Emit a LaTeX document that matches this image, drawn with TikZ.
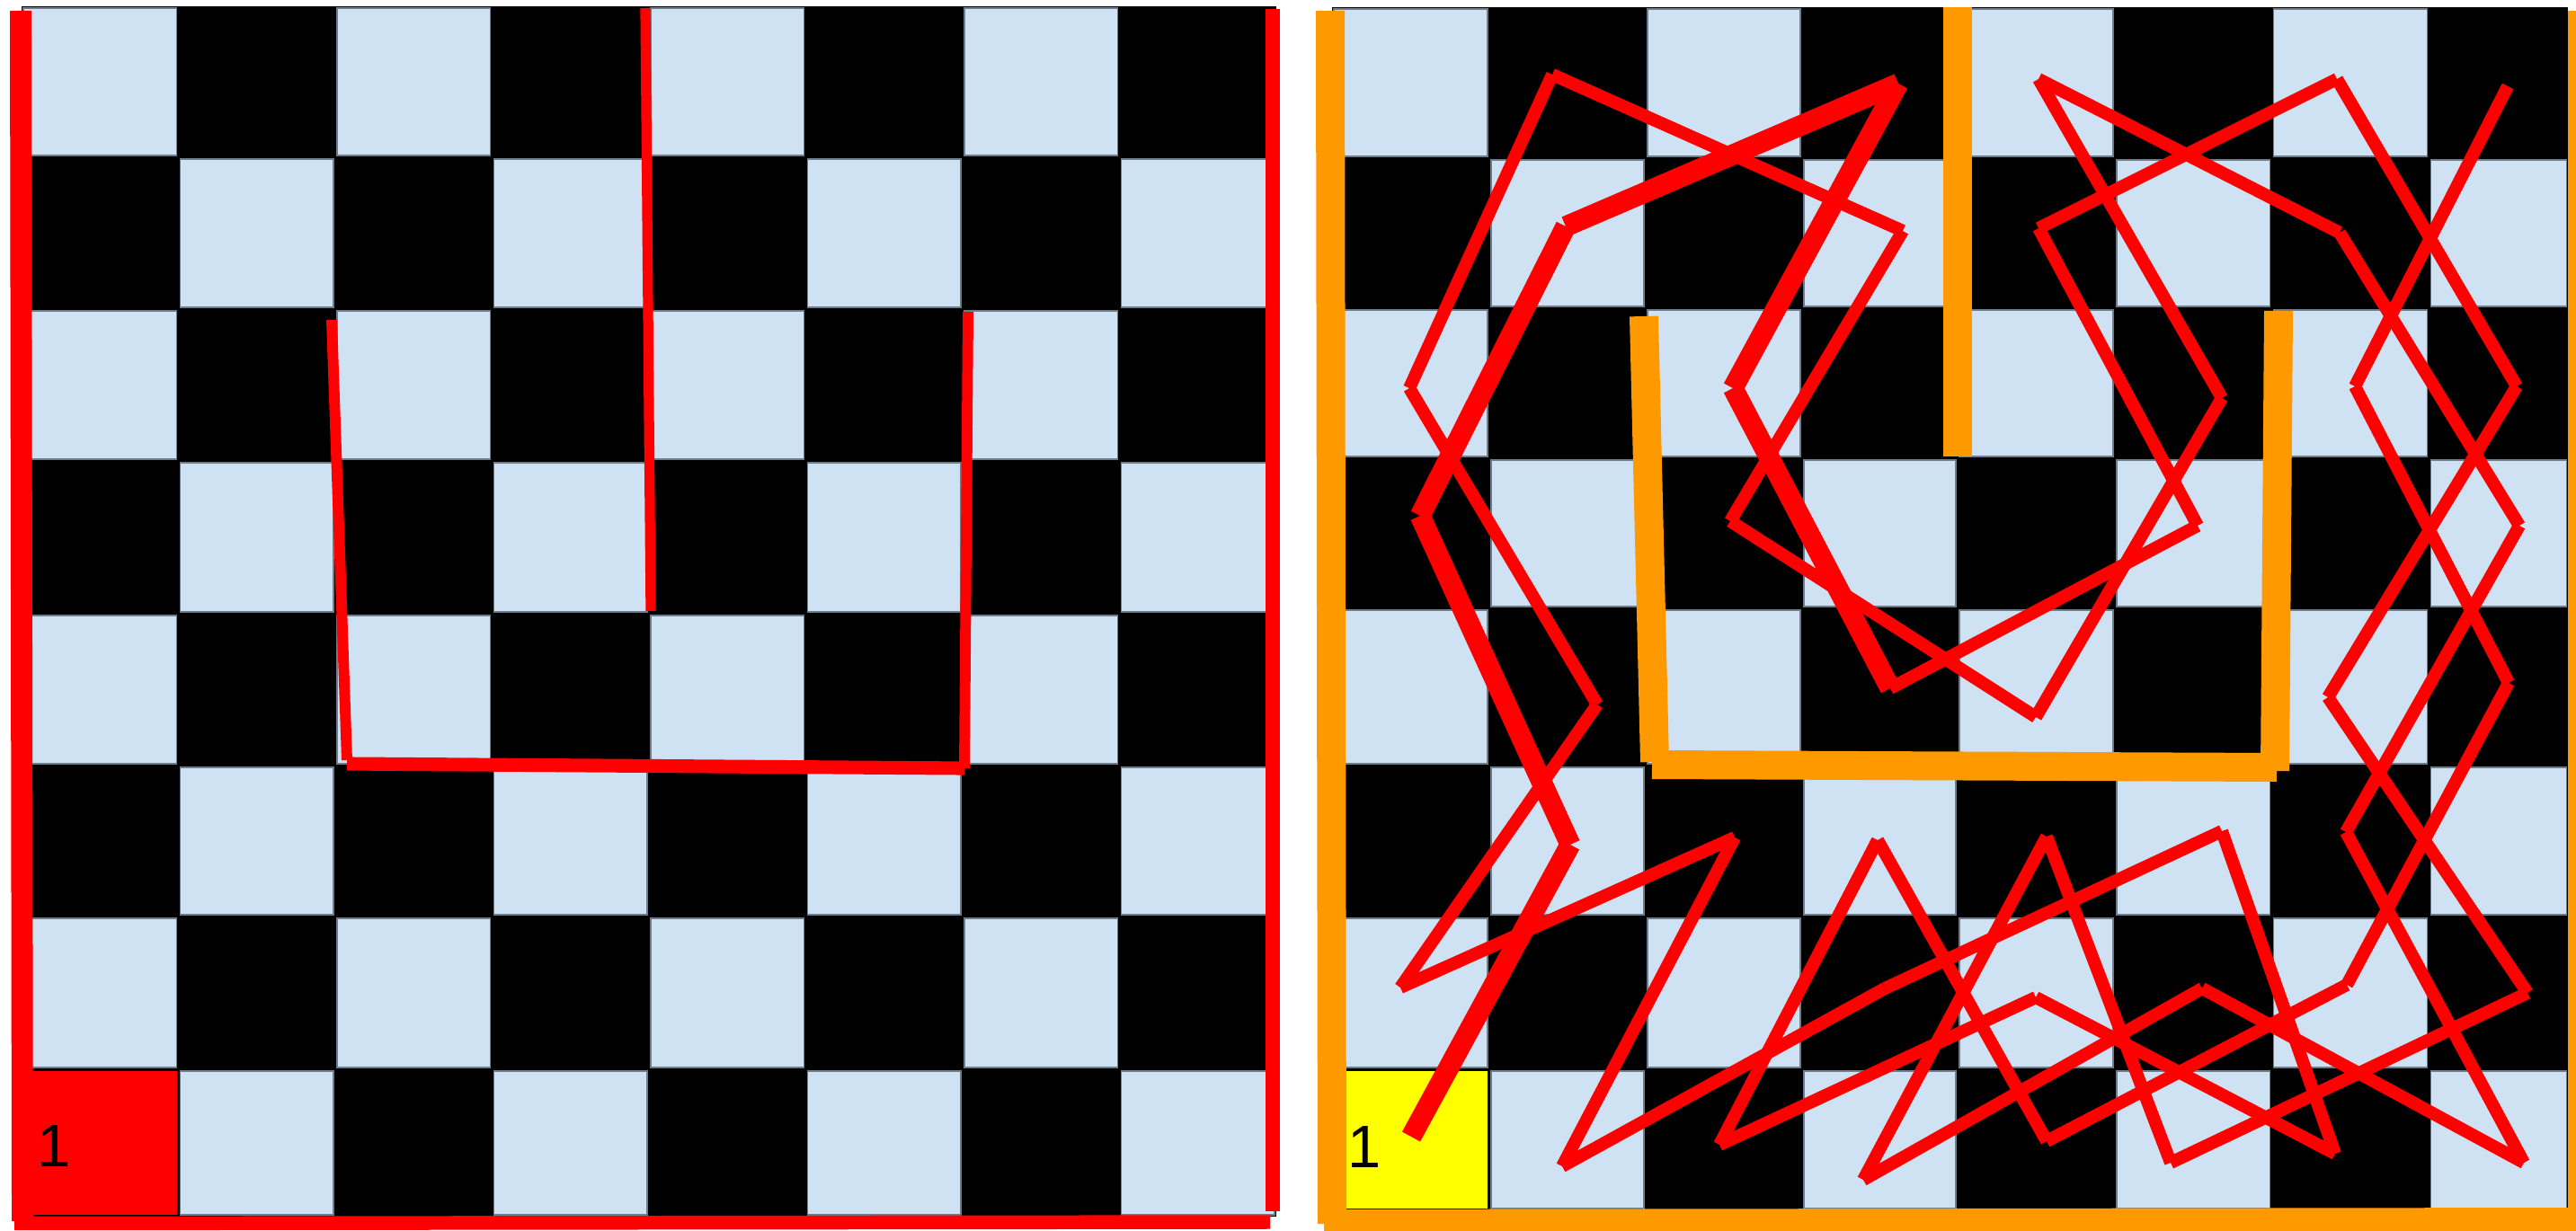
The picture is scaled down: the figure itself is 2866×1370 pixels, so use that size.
\documentclass[tikz,border=0pt]{standalone}
\usepackage{fontspec}
\setmainfont{Liberation Sans}
\definecolor{lightsq}{RGB}{207,226,243}
\definecolor{orng}{RGB}{255,153,0}
\definecolor{sqedge}{RGB}{110,125,140}
\definecolor{yel}{RGB}{255,255,0}
\tikzset{
  lightbox/.style={fill=lightsq, draw=sqedge, line width=0.3pt},
  thinred/.style={draw=red, line width=4pt},
  thickred/.style={draw=red, line width=6.5pt},
  orangeline/.style={draw=orng, line width=9.1pt},
  labelone/.style={font=\fontsize{19}{19}\selectfont, text=black, inner sep=0pt},
}
\newcommand\drawboard[2]{%
  \foreach \c/\xa/\xb in {#1}{%
    \foreach \r/\ya/\yb in {#2}{%
      \pgfmathtruncatemacro\pp{mod(\c+\r,2)}%
      \ifnum\pp=0 \path[lightbox] (\xa+2,\ya+2) rectangle (\xb-2,\yb-2);\fi
    }}}
\begin{document}
\begin{tikzpicture}[x=0.01cm,y=-0.01cm]
\useasboundingbox (0,0) rectangle (2866,1370);
\fill[white] (0,0) rectangle (2866,1370);
% ---------- left board ----------
\fill[black] (24,7) rectangle (1420,1354);
\drawboard{0/24/198.5,1/198.5/373,2/373/547.5,3/547.5/722,4/722/896.5,5/896.5/1071,6/1071/1245.5,7/1245.5/1420}{0/7/175,1/175/344,2/344/513,3/513/683,4/683/852,5/852/1020,6/1020/1190,7/1190/1354}
\fill[red] (26,1192) rectangle (196.5,1352);
\node[labelone] (oneL) at (60,1276) {1};
% ---------- right board ----------
\fill[black] (1482,8) rectangle (2857,1347);
\drawboard{0/1482/1657,1/1657/1831,2/1831/2005,3/2005/2178,4/2178/2353,5/2353/2527,6/2527/2702,7/2702/2857}{0/8/176,1/176/343,2/343/510,3/510/677,4/677/852,5/852/1020,6/1020/1190,7/1190/1347}
\fill[yel] (1484,1192) rectangle (1655,1345);
\node[labelone] (oneR) at (1518,1277) {1};
% ---------- left board lines ----------
\coordinate (A1) at (23,12);   \coordinate (A2) at (25,1359);
\coordinate (B1) at (16,1361.5); \coordinate (B2) at (1413,1360);
\coordinate (C1) at (1416,10); \coordinate (C2) at (1416,1348);
\coordinate (D1) at (718,9);   \coordinate (D2) at (724,680);
\coordinate (E1) at (369,356); \coordinate (E2) at (386,846);
\coordinate (F1) at (386,850); \coordinate (F2) at (1073,855);
\coordinate (G1) at (1077,347); \coordinate (G2) at (1073,855);
\draw[red, line width=6.8pt] (A1) -- (A2);
\draw[red, line width=4.4pt] (B1) -- (B2);
\draw[red, line width=4.5pt] (C1) -- (C2);
\draw[red, line width=3.2pt] (D1) -- (D2);
\draw[red, line width=3.4pt] (E1) -- (E2);
\draw[red, line width=4.3pt] (F1) -- (F2);
\draw[red, line width=3.4pt] (G1) -- (G2);
% ---------- orange lines ----------
\coordinate (O1) at (1480,12);  \coordinate (O2) at (1482,1362);
\coordinate (O3) at (1473,1362); \coordinate (O4) at (2866,1360);
\coordinate (O5) at (2873,12);  \coordinate (O6) at (2873,1370);
\coordinate (U1) at (1829,352); \coordinate (U2) at (1841,848);
\coordinate (U3) at (1838,851); \coordinate (U4) at (2533,854);
\coordinate (U5) at (2535,346); \coordinate (U6) at (2531,858);
\coordinate (M1) at (2178,8);   \coordinate (M2) at (2178,508);
\draw[orangeline] (O1) -- (O2);
\draw[orangeline] (O3) -- (O4);
\draw[orangeline] (O5) -- (O6);
\draw[orangeline] (U1) -- (U2);
\draw[orangeline] (U3) -- (U4);
\draw[orangeline] (U5) -- (U6);
\draw[orangeline] (M1) -- (M2);
% ---------- knight path ----------
\coordinate (V1) at (1570,1265);
\coordinate (V2) at (1747,940);
\coordinate (V3) at (1580,574);
\coordinate (V4) at (1742,252);
\coordinate (V5) at (2112,93);
\coordinate (V6) at (1928,432);
\coordinate (V7) at (2103,766);
\coordinate (W24) at (2445,585);
\coordinate (W22) at (2268,254);
\coordinate (W25) at (2600,88);
\coordinate (W26) at (2800,430);
\coordinate (W27) at (2590,776);
\coordinate (W28) at (2812,1105);
\coordinate (W29) at (2415,1294);
\coordinate (W30) at (2277,931);
\coordinate (W31) at (2073,1313);
\coordinate (W32) at (2450,1100);
\coordinate (W33) at (2808,1294);
\coordinate (W34) at (2610,926);
\coordinate (W35) at (2803,585);
\coordinate (W36) at (2603,259);
\coordinate (W23) at (2268,88);
\coordinate (W21) at (2472,443);
\coordinate (W20) at (2265,798);
\coordinate (W19) at (1925,580);
\coordinate (W18) at (2117,257);
\coordinate (W1) at (1727,83);
\coordinate (W2) at (1568,432);
\coordinate (W3) at (1777,784);
\coordinate (W4) at (1558,1099);
\coordinate (W5) at (1930,932);
\coordinate (W6) at (1738,1298);
\coordinate (W7) at (2097,1100);
\coordinate (W8) at (2472,925);
\coordinate (W9) at (2598,1284);
\coordinate (W10) at (2265,1110);
\coordinate (W11) at (1913,1274);
\coordinate (W12) at (2089,935);
\coordinate (W13) at (2277,1270);
\coordinate (W14) at (2611,1096);
\coordinate (W15) at (2791,760);
\coordinate (W16) at (2620,430);
\coordinate (W17) at (2790,96);
\foreach \a/\b in {V1/V2,V2/V3,V3/V4,V4/V5,V5/V6,V6/V7}
  \draw[thickred] (\a) -- (\b);
\foreach \a/\b in {V7/W24,W24/W22,W22/W25,W25/W26,W26/W27,W27/W28,W28/W29,W29/W30,W30/W31,W31/W32,W32/W33,W33/W34,W34/W35,W35/W36,W36/W23,W23/W21,W21/W20,W20/W19,W19/W18,W18/W1,W1/W2,W2/W3,W3/W4,W4/W5,W5/W6,W6/W7,W7/W8,W8/W9,W9/W10,W10/W11,W11/W12,W12/W13,W13/W14,W14/W15,W15/W16,W16/W17}
  \draw[thinred] (\a) -- (\b);
\end{tikzpicture}
\end{document}
